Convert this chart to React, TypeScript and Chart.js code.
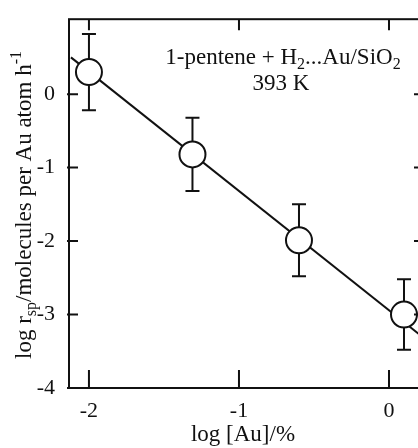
import React, { useEffect, useRef } from "react";
import { Chart, registerables } from "chart.js";
Chart.register(...registerables);

const logAu = [-2.0, -1.31, -0.6, 0.1];
const logRate = [0.3, -0.82, -1.99, -3.0];
const rateErr = [0.52, 0.5, 0.49, 0.48];
const fitX = [-2.12, 0.22];
const fitY = [0.5, -3.3];
const xTicks = [-2, -1, 0];
const yTicks = [-4, -3, -2, -1, 0];

const FONT = '"Liberation Serif", "Times New Roman", serif';
const INK = "#111";

type Part = { t: string; s?: "sub" | "sup" };

function drawRich(ctx: CanvasRenderingContext2D, parts: Part[], x: number, y: number, size: number) {
  const small = Math.round(size * 0.68);
  let total = 0;
  parts.forEach((p) => {
    ctx.font = `${p.s ? small : size}px ${FONT}`;
    total += ctx.measureText(p.t).width;
  });
  let cx = x - total / 2;
  ctx.textAlign = "left";
  ctx.textBaseline = "alphabetic";
  parts.forEach((p) => {
    ctx.font = `${p.s ? small : size}px ${FONT}`;
    const dy = p.s === "sub" ? size * 0.2 : p.s === "sup" ? -size * 0.42 : 0;
    ctx.fillText(p.t, cx, y + dy);
    cx += ctx.measureText(p.t).width;
  });
}

const deco = {
  id: "deco",
  beforeDatasetsDraw(chart: any) {
    const { ctx, scales } = chart;
    const x = scales.x, y = scales.y;
    ctx.save();
    ctx.strokeStyle = INK;
    ctx.lineWidth = 2;
    logAu.forEach((v, i) => {
      const px = x.getPixelForValue(v);
      const top = y.getPixelForValue(logRate[i] + rateErr[i]);
      const bot = y.getPixelForValue(logRate[i] - rateErr[i]);
      ctx.beginPath();
      ctx.moveTo(px, top);
      ctx.lineTo(px, bot);
      ctx.moveTo(px - 7, top);
      ctx.lineTo(px + 7, top);
      ctx.moveTo(px - 7, bot);
      ctx.lineTo(px + 7, bot);
      ctx.stroke();
    });
    ctx.restore();
  },
  afterDraw(chart: any) {
    const { ctx, chartArea: a, scales } = chart;
    const x = scales.x, y = scales.y;
    ctx.save();
    ctx.strokeStyle = INK;
    ctx.lineWidth = 2;
    ctx.strokeRect(a.left, a.top, a.right - a.left, a.bottom - a.top);
    ctx.beginPath();
    xTicks.forEach((v) => {
      const px = x.getPixelForValue(v);
      ctx.moveTo(px, a.bottom);
      ctx.lineTo(px, a.bottom - 18);
      ctx.moveTo(px, a.top);
      ctx.lineTo(px, a.top + 11);
    });
    yTicks.forEach((v) => {
      const py = y.getPixelForValue(v);
      ctx.moveTo(a.left - 2, py);
      ctx.lineTo(a.left + 9, py);
      ctx.moveTo(a.right, py);
      ctx.lineTo(a.right - 8, py);
    });
    ctx.stroke();

    ctx.fillStyle = INK;
    drawRich(ctx, [{ t: "1-pentene + H" }, { t: "2", s: "sub" }, { t: "...Au/SiO" }, { t: "2", s: "sub" }], 283, 64, 23);
    drawRich(ctx, [{ t: "393 K" }], 281, 90, 23);
    drawRich(ctx, [{ t: "log [Au]/%" }], 243, 441, 23);

    ctx.save();
    ctx.translate(31, 205);
    ctx.rotate(-Math.PI / 2);
    drawRich(ctx, [{ t: "log r" }, { t: "sp", s: "sub" }, { t: "/molecules per Au atom h" }, { t: "-1", s: "sup" }], 0, 0, 23);
    ctx.restore();
    ctx.restore();
  },
};

export default function App() {
  const ref = useRef<HTMLCanvasElement>(null);
  useEffect(() => {
    document.body.style.margin = "0";
    document.body.style.overflow = "hidden";
    const chart = new Chart(ref.current!, {
      type: "scatter",
      data: {
        datasets: [
          {
            data: logAu.map((v, i) => ({ x: v, y: logRate[i] })),
            pointRadius: 13,
            pointBorderWidth: 2,
            backgroundColor: "#fff",
            borderColor: INK,
            order: 0,
          } as any,
          {
            type: "line",
            data: fitX.map((v, i) => ({ x: v, y: fitY[i] })),
            borderColor: INK,
            borderWidth: 2,
            pointRadius: 0,
            fill: false,
            order: 1,
          } as any,
        ],
      },
      options: {
        animation: false,
        responsive: false,
        devicePixelRatio: 1,
        layout: { autoPadding: false, padding: { top: 14, right: 0, left: 0, bottom: 0 } },
        plugins: { legend: { display: false }, tooltip: { enabled: false } },
        scales: {
          x: {
            type: "linear",
            min: -2.133,
            max: 0.22,
            grid: { display: false },
            border: { display: false },
            afterBuildTicks: (s: any) => { s.ticks = xTicks.map((v) => ({ value: v })); },
            afterFit: (s: any) => { s.height = 60; },
            ticks: { color: INK, font: { family: FONT, size: 22 }, padding: 2, maxRotation: 0, autoSkip: false },
          },
          y: {
            type: "linear",
            min: -4,
            max: 1.02,
            grid: { display: false },
            border: { display: false },
            afterBuildTicks: (s: any) => { s.ticks = yTicks.map((v) => ({ value: v })); },
            afterFit: (s: any) => { s.width = 69; },
            ticks: { color: INK, font: { family: FONT, size: 22 }, padding: 6 },
          },
        },
      },
      plugins: [deco],
    });
    return () => chart.destroy();
  }, []);
  return (
    <div style={{ position: "absolute", left: 0, top: 0, width: 422, height: 448, background: "#fff" }}>
      <canvas ref={ref} width={422} height={448} />
    </div>
  );
}
